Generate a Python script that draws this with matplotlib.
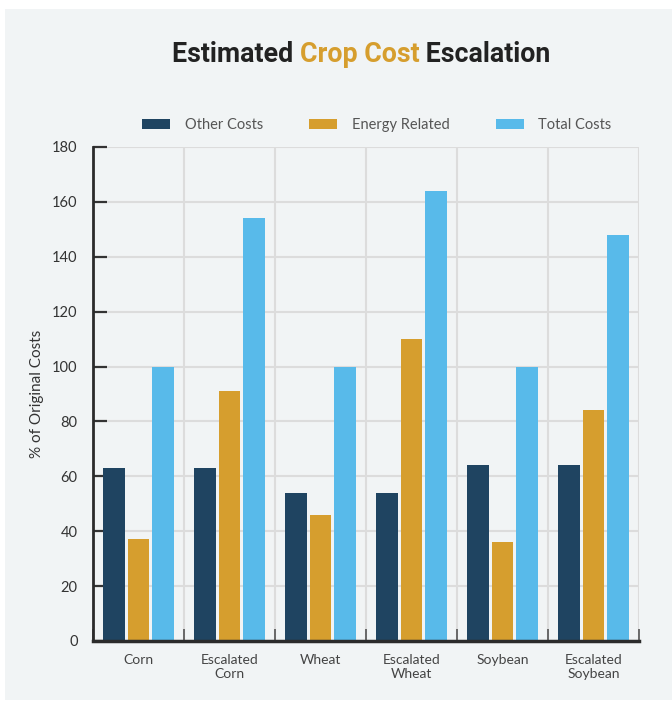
import matplotlib
matplotlib.use("Agg")
import matplotlib.pyplot as plt
from matplotlib.patches import Rectangle
import numpy as np

categories = ["Corn", "Escalated\nCorn", "Wheat", "Escalated\nWheat", "Soybean", "Escalated\nSoybean"]
other_costs = [63, 63, 54, 54, 64, 64]
energy_related = [37, 91, 46, 110, 36, 84]
total_costs = [100, 154, 100, 164, 100, 148]
series_names = ["Other Costs", "Energy Related", "Total Costs"]
y_ticks = [0, 20, 40, 60, 80, 100, 120, 140, 160, 180]

colors = ["#1F4461", "#D69E2E", "#58BAEA"]
panel_bg = "#F1F4F5"
grid_col = "#DCDCDC"

body_font = ["Lato", "DejaVu Sans"]
title_font = ["Liberation Sans Narrow", "Roboto", "DejaVu Sans"]

W, H = 672, 702
fig = plt.figure(figsize=(W / 100, H / 100), dpi=100)
fig.patch.set_facecolor("white")
fig.add_artist(Rectangle((5 / W, 1 - 700 / H), (W - 5) / W, (700 - 9) / H,
                         transform=fig.transFigure, facecolor=panel_bg,
                         edgecolor="none", zorder=-10))

ax = fig.add_axes([93 / W, 1 - 641 / H, (639 - 93) / W, (641 - 147) / H])
ax.set_facecolor(panel_bg)

x = np.arange(len(categories)) + 0.5
step = 0.27
width = 0.24
for i, (vals, name) in enumerate(zip([other_costs, energy_related, total_costs], series_names)):
    ax.bar(x + (i - 1) * step, vals, width=width, color=colors[i], label=name, zorder=3)

ax.set_xlim(0, len(categories))
ax.set_ylim(0, 180)
ax.set_yticks(y_ticks)
ax.set_xticks(x)
ax.set_xticklabels(categories, fontfamily=body_font, fontsize=10, color="#444444",
                   linespacing=1.2)
ax.set_xticks(np.arange(len(categories) + 1), minor=True)

for lbl in ax.get_yticklabels():
    lbl.set_fontfamily(body_font)
ax.tick_params(axis="y", direction="in", length=10, width=1.6, color="#333333",
               labelsize=10.5, labelcolor="#333333", pad=11)
ax.tick_params(axis="x", which="major", length=0, pad=9)
ax.tick_params(axis="x", which="minor", direction="in", length=9, width=1.2, color="#555555")

ax.grid(axis="y", which="major", color=grid_col, linewidth=1.5, zorder=0)
ax.grid(axis="x", which="minor", color=grid_col, linewidth=1.5, zorder=0)
ax.grid(axis="x", which="major", visible=False)

for side in ["top", "right"]:
    ax.spines[side].set_visible(False)
ax.spines["left"].set_color("#2b2b2b")
ax.spines["left"].set_linewidth(2.0)
ax.spines["bottom"].set_color("#2b2b2b")
ax.spines["bottom"].set_linewidth(2.5)
ax.spines["left"].set_zorder(4)
ax.spines["bottom"].set_zorder(4)

ax.set_ylabel("% of Original Costs", fontfamily=body_font, fontsize=11,
              color="#333333", labelpad=6)

leg = fig.legend(loc="center", bbox_to_anchor=(377 / W, 1 - 125 / H), ncol=3,
                 frameon=False, handlelength=1.9, handleheight=0.7,
                 handletextpad=1.0, columnspacing=3.2,
                 prop={"family": body_font, "size": 10.5})
for t in leg.get_texts():
    t.set_color("#555555")

# Title with the middle phrase highlighted
pieces = [("Estimated ", "#222222"), ("Crop Cost", "#D69E2E"), (" Escalation", "#222222")]
renderer = fig.canvas.get_renderer()
texts = []
for s, c in pieces:
    t = fig.text(0, 1 - 55 / H, s, color=c, fontsize=19.3, fontweight="bold",
                 fontfamily=title_font, va="center", ha="left")
    texts.append(t)
widths = [t.get_window_extent(renderer).width for t in texts]
total = sum(widths)
x0 = 361 - total / 2
for t, w in zip(texts, widths):
    t.set_x(x0 / W)
    x0 += w

fig.savefig("out.png", dpi=100, facecolor=fig.get_facecolor())
